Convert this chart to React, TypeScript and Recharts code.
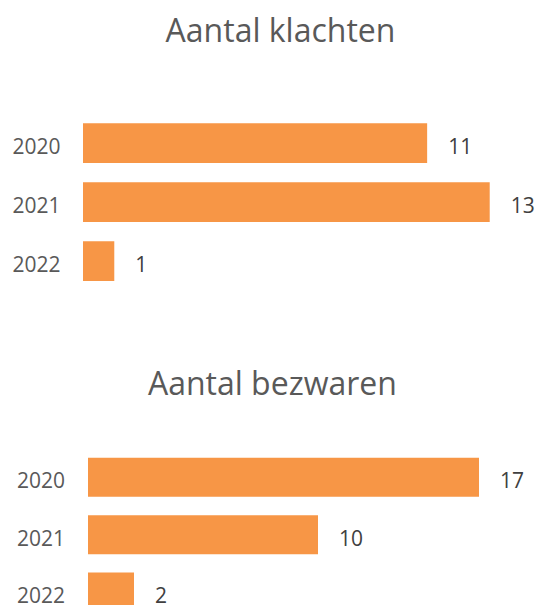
import { BarChart, Bar, XAxis, YAxis, LabelList } from 'recharts';

const years = ['2020', '2021', '2022'];
const klachten = [11, 13, 1];
const bezwaren = [17, 10, 2];

const FONT = "'Open Sans', sans-serif";
const ORANGE = '#F79646';

const klachtenData = years.map((year, i) => ({ year, value: klachten[i] }));
const bezwarenData = years.map((year, i) => ({ year, value: bezwaren[i] }));

const yearTick = (gap: number, dy: number) => (props: any) => {
  const { x, y, payload } = props;
  return (
    <text x={x - gap} y={y + dy} textAnchor="end" fill="#595959" fontSize={21} fontFamily={FONT}>
      {payload.value}
    </text>
  );
};

const valueLabel = (props: any) => {
  const { x, y, width, height, value } = props;
  return (
    <text x={x + width + 21} y={y + height / 2 + 11} fill="#404040" fontSize={21} fontFamily={FONT}>
      {value}
    </text>
  );
};

export default function App() {
  return (
    <div
      style={{
        position: 'absolute',
        top: 0,
        left: 0,
        width: 535,
        height: 605,
        overflow: 'hidden',
        background: '#fff',
      }}
    >
      <div style={{ position: 'absolute', top: 0, left: 0 }}>
        <BarChart
          width={535}
          height={300}
          layout="vertical"
          data={klachtenData}
          margin={{ top: 113.35, right: 14, bottom: 9.65, left: 0 }}
          barSize={39.7}
        >
          <XAxis type="number" domain={[0, 14]} hide />
          <YAxis
            type="category"
            dataKey="year"
            width={83}
            axisLine={false}
            tickLine={false}
            tick={yearTick(14.5, 11)}
          />
          <Bar dataKey="value" fill={ORANGE} isAnimationActive={false}>
            <LabelList dataKey="value" content={valueLabel} />
          </Bar>
        </BarChart>
      </div>
      <div style={{ position: 'absolute', top: 300, left: 0 }}>
        <BarChart
          width={535}
          height={331}
          layout="vertical"
          data={bezwarenData}
          margin={{ top: 148.83, right: 10, bottom: 10.17, left: 0 }}
          barSize={39}
        >
          <XAxis type="number" domain={[0, 19]} hide />
          <YAxis
            type="category"
            dataKey="year"
            width={88}
            axisLine={false}
            tickLine={false}
            tick={yearTick(15, 11)}
          />
          <Bar dataKey="value" fill={ORANGE} isAnimationActive={false}>
            <LabelList dataKey="value" content={valueLabel} />
          </Bar>
        </BarChart>
      </div>
      <svg width={535} height={605} style={{ position: 'absolute', top: 0, left: 0, pointerEvents: 'none' }}>
        <text x={280.5} y={41.7} textAnchor="middle" fill="#595959" fontSize={32} fontFamily={FONT}>
          Aantal klachten
        </text>
        <text x={272.4} y={395} textAnchor="middle" fill="#595959" fontSize={32} fontFamily={FONT}>
          Aantal bezwaren
        </text>
      </svg>
    </div>
  );
}
